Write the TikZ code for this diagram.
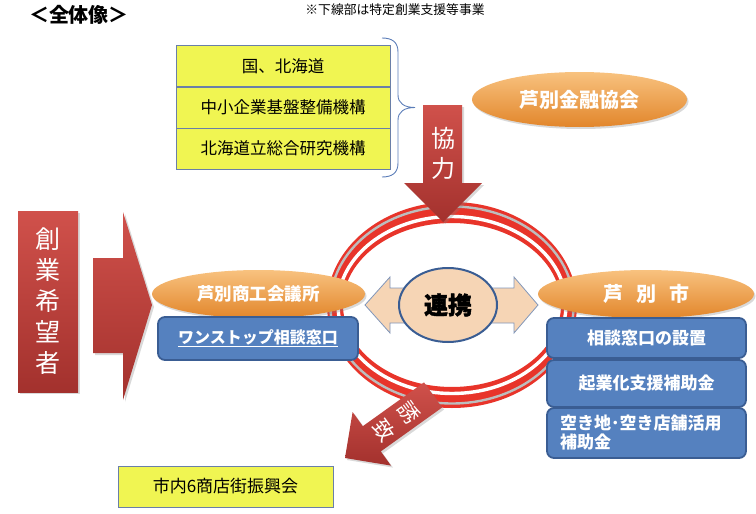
\documentclass[tikz,border=0pt]{standalone}
\usepackage{fontspec}
\setmainfont{Noto Sans CJK JP}
\newfontfamily\heavyjp[BoldFeatures={FakeBold=1.6}]{Noto Sans CJK JP}
\usetikzlibrary{shapes.geometric,shadows}
\definecolor{ylw}{HTML}{F0F552}
\definecolor{ylwborder}{HTML}{6A7FA8}
\definecolor{redL}{HTML}{D0514B}
\definecolor{redD}{HTML}{A3312D}
\definecolor{orgL}{HTML}{F8C27F}
\definecolor{orgD}{HTML}{E2862B}
\definecolor{bluF}{HTML}{5581BF}
\definecolor{bluD}{HTML}{3A5D93}
\definecolor{peach}{HTML}{F6D5B5}
\definecolor{peachborder}{HTML}{8096BA}
\definecolor{ringred}{HTML}{E8342A}
\definecolor{ringgray}{HTML}{BDBDBD}
\definecolor{bracecol}{HTML}{5B7DB8}
\begin{document}
\begin{tikzpicture}[x=1pt,y=-1pt,
  ybox/.style={rectangle, draw=ylwborder, line width=0.8pt, fill=ylw, inner sep=0pt,
    font=\fontsize{16.5}{19}\selectfont},
  oval/.style={ellipse, top color=orgL, bottom color=orgD, text=white, inner sep=0pt,
    font=\bfseries\fontsize{18}{20}\selectfont,
    drop shadow={opacity=0.3, shadow xshift=1.5pt, shadow yshift=-2pt}},
  bbox/.style={rectangle, rounded corners=7pt, draw=bluD, line width=1.8pt, fill=bluF,
    text=white, inner sep=0pt, font=\bfseries\fontsize{17}{19}\selectfont},
  redshape/.style={top color=redL, bottom color=redD,
    drop shadow={opacity=0.3, shadow xshift=2pt, shadow yshift=-2pt}},
  whitetxt/.style={text=white, inner sep=0pt},
]
\useasboundingbox (0,0) rectangle (756,514);

% title and note
\node[inner sep=0pt, font=\bfseries\fontsize{20}{22}\selectfont] (title) at (79,15) {＜全体像＞};
\node[inner sep=0pt, font=\fontsize{12.8}{14}\selectfont] (note) at (395,10) {※下線部は特定創業支援等事業};

% yellow boxes
\node[ybox, minimum width=214pt, minimum height=41.5pt] (y1) at (283,66) {国、北海道};
\node[ybox, minimum width=214pt, minimum height=41pt] (y2) at (283,107.5) {中小企業基盤整備機構};
\node[ybox, minimum width=214pt, minimum height=41pt] (y3) at (283,148.5) {北海道立総合研究機構};

% brace
\draw[bracecol, line width=0.9pt] (382,38) .. controls (392,38) and (398,42) .. (398,52)
  -- (398,95) .. controls (398,103) and (404,107.5) .. (415,107.5)
  .. controls (404,107.5) and (398,112) .. (398,120)
  -- (398,163) .. controls (398,173) and (392,177) .. (382,177);

% kinyu kyokai
\node[oval, minimum width=215pt, minimum height=55pt, font=\bfseries\fontsize{20}{22}\selectfont] (kinyu) at (579.5,99.5) {芦別金融協会};

% ring
\fill[ringred, even odd rule] (452,305) ellipse [x radius=125, y radius=103]
  (452,305) ellipse [x radius=109, y radius=82];
\draw[ringgray, line width=2.4pt] (452,305) ellipse [x radius=121.7, y radius=98.5];
\draw[white, line width=3.4pt] (452,305) ellipse [x radius=114, y radius=88.5];

% sogyo kibousha
\node[rectangle, minimum width=60pt, minimum height=181pt, top color=redL, bottom color=redD,
  drop shadow={opacity=0.3, shadow xshift=2pt, shadow yshift=-2pt},
  text=white, align=center, inner sep=0pt, font=\fontsize{25}{31}\selectfont] (sogyo) at (48,301.5)
  {創\\業\\希\\望\\者};

% big right arrow
\path[redshape] (93,258) -- (123,258) -- (123,212) -- (152,305) -- (123,400) -- (123,353) -- (93,353) -- cycle;

% shoko kaigisho
\node[oval, minimum width=213pt, minimum height=48pt, font=\bfseries\fontsize{17.5}{19}\selectfont] (shoko) at (258.5,294) {芦別商工会議所};
\node[bbox, minimum width=200pt, minimum height=43pt, font=\bfseries\fontsize{16}{18}\selectfont] (onestop) at (258,338.5) {\underline{ワンストップ相談窓口}};

% ashibetsu city
\node[oval, minimum width=216pt, minimum height=48pt, font=\bfseries\fontsize{20}{22}\selectfont] (city) at (646,294) {芦\hspace{13pt}別\hspace{13pt}市};
\node[bbox, minimum width=199pt, minimum height=40pt] (rb1) at (646.5,338) {相談窓口の設置\hspace{26pt}};
\node[bbox, minimum width=199pt, minimum height=47pt] (rb2) at (646.5,383.5) {起業化支援補助金};
\node[bbox, minimum width=199pt, minimum height=50pt, text width=173pt, align=left] (rb3) at (646.5,433)
  {空き地･空き店舗活用\\補助金};

% renkei double arrow
\path[fill=peach, draw=peachborder, line width=0.8pt] (365,305) -- (390,277) -- (390,288) -- (514,288) -- (514,277)
  -- (538,305) -- (514,333) -- (514,323) -- (390,323) -- (390,333) -- cycle;
\node[ellipse, minimum width=98pt, minimum height=74pt, fill=peach, draw=bluD, line width=2pt, inner sep=0pt,
  font=\heavyjp\bfseries\fontsize{24}{26}\selectfont] (renkei) at (448,305) {連携};

% kyoryoku arrow
\path[redshape] (423,105) -- (462,105) -- (462,183) -- (482,183) -- (443,222) -- (404,183) -- (423,183) -- cycle;
\node[whitetxt, font=\fontsize{24}{26}\selectfont] (kyo1) at (443,138) {協};
\node[whitetxt, font=\fontsize{24}{26}\selectfont] (kyo2) at (443,168) {力};

% yuuchi arrow
\path[redshape] (442,407.6) -- (424,382.4) -- (362.8,426.2) -- (352.6,412) -- (345,458) -- (391,465.6) -- (380.8,451.4) -- cycle;
\node[whitetxt, rotate=-54.4, font=\fontsize{21}{23}\selectfont] (yu1) at (408.6,412.5) {誘};
\node[whitetxt, rotate=-54.4, font=\fontsize{21}{23}\selectfont] (yu2) at (384.2,430) {致};

% shotengai
\node[ybox, minimum width=215pt, minimum height=41pt, font=\fontsize{17}{19}\selectfont] (shoten) at (225.5,486.5) {市内6商店街振興会};
\end{tikzpicture}
\end{document}
